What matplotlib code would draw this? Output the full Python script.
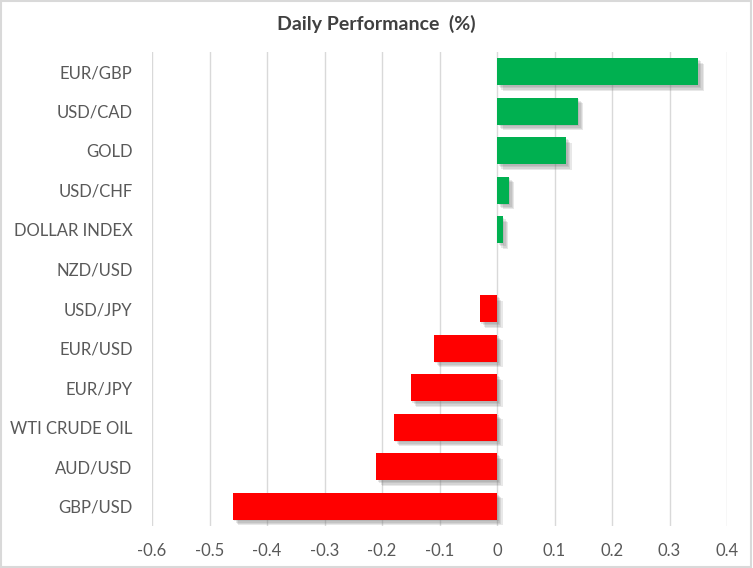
import matplotlib.pyplot as plt
import matplotlib.patheffects as pe
from matplotlib.patches import Rectangle

labels = ['EUR/GBP', 'USD/CAD', 'GOLD', 'USD/CHF', 'DOLLAR INDEX', 'NZD/USD',
          'USD/JPY', 'EUR/USD', 'EUR/JPY', 'WTI CRUDE OIL', 'AUD/USD', 'GBP/USD']
values = [0.35, 0.14, 0.12, 0.02, 0.01, 0.0,
          -0.03, -0.11, -0.15, -0.18, -0.21, -0.46]
xticks = [-0.6, -0.5, -0.4, -0.3, -0.2, -0.1, 0, 0.1, 0.2, 0.3, 0.4]

plt.rcParams['font.family'] = ['Lato', 'DejaVu Sans']

fig = plt.figure(figsize=(7.53, 5.68), dpi=100)
ax = fig.add_axes([0.2019, 0.0739, 0.7636, 0.8346])

pos = list(range(len(labels)))[::-1]
colors = ['#00B050' if v > 0 else '#FF0000' for v in values]
bars = ax.barh(pos, values, height=0.68, color=colors, zorder=3)
# soft shadow: a few stacked faint offsets
shadow = [pe.SimplePatchShadow(offset=(d, -d), shadow_rgbFace='#707070', alpha=0.16)
          for d in (1.2, 2.2, 3.2, 4.0)]
for b in bars:
    b.set_path_effects(shadow + [pe.Normal()])

ax.set_xlim(-0.6, 0.4)
ax.set_ylim(-0.5, 11.5)
ax.set_xticks(xticks)
ax.set_xticklabels(['0' if t == 0 else f'{t:g}' for t in xticks])
ax.set_yticks(pos)
ax.set_yticklabels(labels)
ax.tick_params(axis='both', length=0, labelsize=12, colors='#595959')
ax.tick_params(axis='y', pad=14)
ax.tick_params(axis='x', pad=12)
ax.grid(axis='x', color='#D9D9D9', linewidth=1, zorder=0)
for s in ax.spines.values():
    s.set_visible(False)

fig.text(0.5, 0.958, 'Daily Performance  (%)', ha='center', va='center',
         fontsize=14, fontweight='bold', color='#404040')
fig.patches.append(Rectangle((0.001, 0.001), 0.997, 0.997, transform=fig.transFigure,
                             fill=False, edgecolor='#D9D9D9', linewidth=1.5))

plt.savefig('out.png', dpi=100)
